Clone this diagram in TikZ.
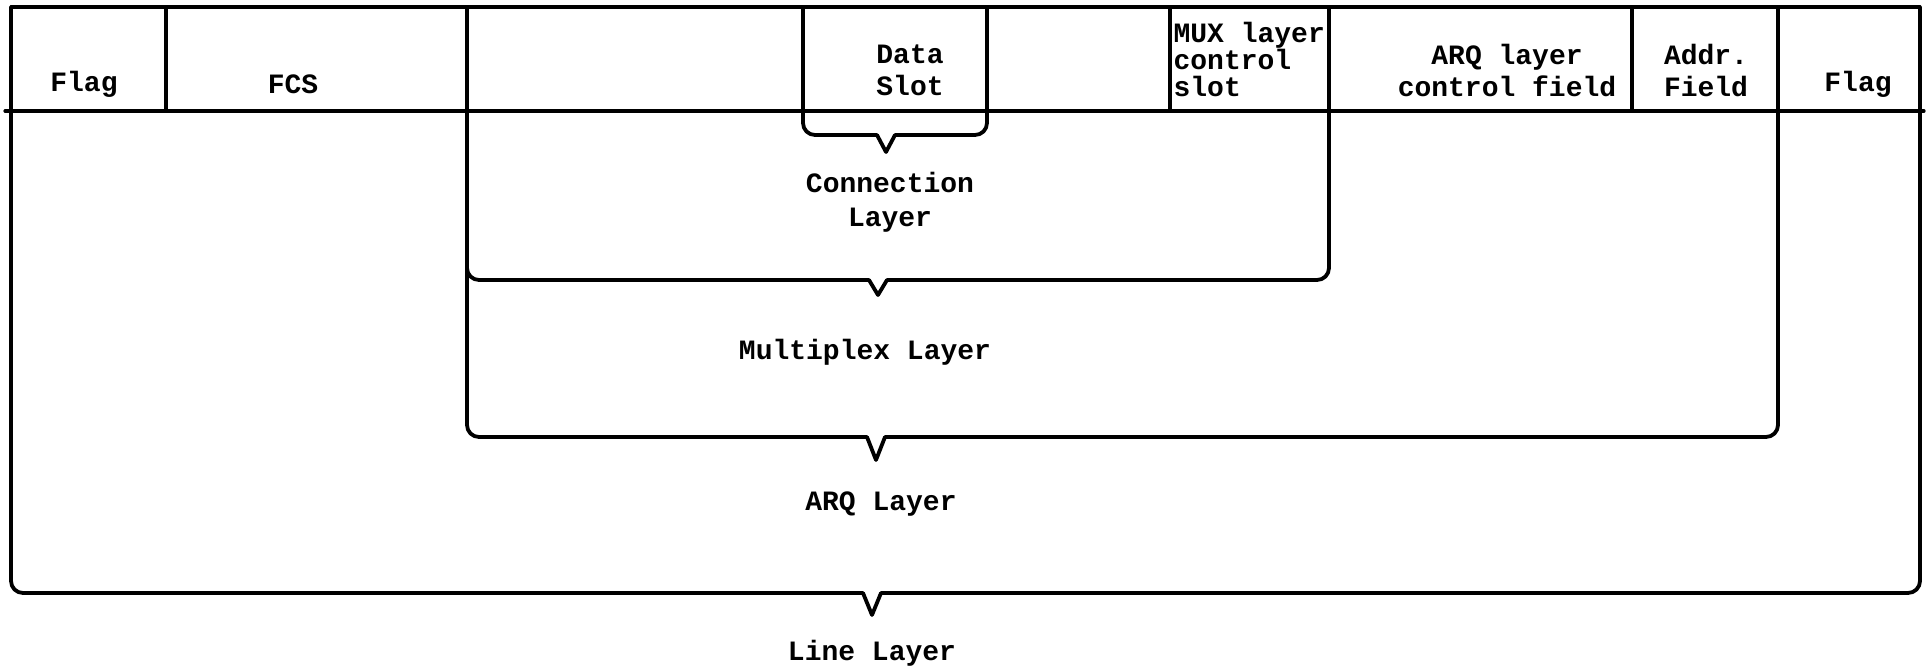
\documentclass[tikz,border=0pt]{standalone}
\usepackage{fontspec}
\setmonofont{Liberation Mono}
\usetikzlibrary{positioning,calc}

\begin{document}
\begin{tikzpicture}[x=0.5pt,y=-0.5pt,line width=1.6pt,line join=round,line cap=round,
    lbl/.style={font=\ttfamily\bfseries\fontsize{14}{16}\selectfont,align=center,inner sep=0pt},
    brace/.style={draw,rounded corners=6pt}]
  \useasboundingbox (0,0) rectangle (1929,670);
  % field boundaries
  \foreach \n/\x in {a0/11,a1/166,a2/467,a3/803,a4/987,a5/1170,a6/1329,a7/1632,a8/1778,a9/1920}
    {\coordinate (\n) at (\x,7); \coordinate (\n b) at (\x,111);}
  \draw (a0) -- (a9);
  \draw ($(a0b)+(-6,0)$) -- ($(a9b)+(4,0)$);
  \foreach \n in {a1,a5,a7}
    \draw (\n) -- (\n b);
  % braces: left/right/bottom/tip/depth
  \foreach \l/\r/\bt/\tx/\d in {a3/a4/135/886/17,a2/a6/280/878/15,a2/a8/437/876/23,a0/a9/593/872/22}{
    \coordinate (tl) at (\tx-9,\bt);
    \coordinate (tp) at (\tx,\bt+\d);
    \coordinate (tr) at (\tx+9,\bt);
    \draw[brace,line width=1.9pt] (\l) |- (tl);
    \draw[line width=1.9pt] (tl) -- (tp) -- (tr);
    \draw[brace,line width=1.9pt] (tr) -| (\r);
  }
  % field labels
  \node[lbl] (flagl) at (84,84) {Flag};
  \node[lbl] (fcs) at (293,84) {FCS};
  \node[lbl] (data) at (910,70) {Data\\Slot};
  \node[lbl,align=left,anchor=west,font=\ttfamily\bfseries\fontsize{14}{13.5}\selectfont] (mux) at (1172,59) {MUX layer\\control\\slot};
  \node[lbl] (arqf) at (1507,70) {ARQ layer\\control field};
  \node[lbl] (addr) at (1706,70) {Addr.\\Field};
  \node[lbl] (flagr) at (1858,84) {Flag};
  % layer labels
  \node[lbl,font=\ttfamily\bfseries\fontsize{14}{17}\selectfont] (conn) at (890,202) {Connection\\Layer};
  \node[lbl] (mplx) at (865,352) {Multiplex Layer};
  \node[lbl] (arq) at (881,504) {ARQ Layer};
  \node[lbl] (line) at (872,653) {Line Layer};
\end{tikzpicture}
\end{document}
